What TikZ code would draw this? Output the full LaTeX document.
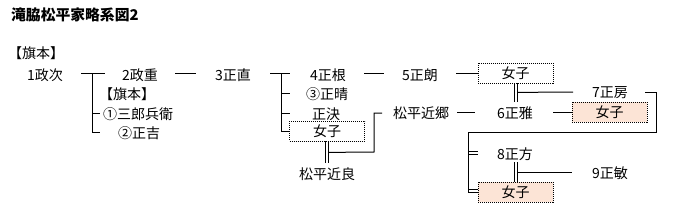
\documentclass[tikz,border=0pt]{standalone}
\usepackage{fontspec}
\setmainfont{Noto Sans CJK JP}
\definecolor{peach}{HTML}{FCE4D6}
\begin{document}
\begin{tikzpicture}[x=1pt,y=-1pt,
  lbl/.style={inner sep=0pt,font=\fontsize{14}{15}\selectfont},
  fbox/.style={draw,line width=0.8pt,dash pattern=on 1pt off 1pt,minimum width=75pt,minimum height=20pt,inner sep=0pt,font=\fontsize{14}{15}\selectfont},
  ffill/.style={fbox,fill=peach},
  ln/.style={line width=1pt}]
\useasboundingbox[fill=white] (0,0) rectangle (675,214);
\node[lbl,anchor=west,font=\fontsize{14.8}{16}\selectfont\bfseries] (title) at (11,15) {滝脇松平家略系図2};
\node[lbl,anchor=west] (h1) at (8,53) {【旗本】};
\node[lbl] (n1) at (45,75) {1政次};
\node[lbl] (n2) at (140,75) {2政重};
\node[lbl] (n3) at (233,75) {3正直};
\node[lbl] (n4) at (328,75) {4正根};
\node[lbl] (n5) at (420,75) {5正朗};
\node[fbox] (f1) at (515.5,73) {女子};
\node[lbl] (h2) at (127,94) {【旗本】};
\node[lbl] (sb) at (138,114) {①三郎兵衛};
\node[lbl] (my) at (139,133) {②正吉};
\node[lbl] (mh) at (327,94) {③正晴};
\node[lbl] (mk) at (326,114) {正決};
\node[fbox] (f2) at (327,131) {女子};
\node[lbl] (cy) at (327,174) {松平近良};
\node[lbl] (cs) at (421,113) {松平近郷};
\node[lbl] (n6) at (515,113) {6正雅};
\node[ffill] (f3) at (609.5,112) {女子};
\node[lbl] (n7) at (610,93) {7正房};
\node[lbl] (n8) at (515,154) {8正方};
\node[ffill] (f4) at (515.5,192) {女子};
\node[lbl] (n9) at (610,173) {9正敏};
% 1 -> children
\draw[ln] (81,73) -- (105,73);
\draw[ln] (92,73) -- (92,132) -- (100,132);
\draw[ln] (92,113) -- (100,113);
\draw[ln] (175,73) -- (196,73);
% 3 -> children
\draw[ln] (270,73) -- (290,73);
\draw[ln] (281,73) -- (281,131) -- (f2.west);
\draw[ln] (281,93) -- (290,93);
\draw[ln] (281,113) -- (290,113);
\draw[ln] (364,73) -- (384,73);
\draw[ln] (456,73) -- (f1.west);
% f1 marriage
\draw[ln] ([xshift=-1.5pt]f1.south) -- ++(0,19);
\draw[ln] ([xshift=1.5pt]f1.south) -- ++(0,19);
\draw[ln] ([xshift=1.5pt]f1.south) ++(0,9) -- (573,92);
% 7 -> 8
\draw[ln] (645,92) -- (656,92) -- (656,132) -- (468,132) -- (468,192) -- (f4.west);
\draw[ln] (468,189) -- (478,189);
\draw[ln] (468,151) -- (478,151);
\draw[ln] (468,154) -- (478,154);
% f2 marriage
\draw[ln] ([xshift=-1.5pt]f2.south) -- ++(0,22);
\draw[ln] ([xshift=1.5pt]f2.south) -- ++(0,22);
\draw[ln] ([xshift=1.5pt]f2.south) ++(0,11) -- (374,152) -- (374,113) -- (382,113);
\draw[ln] (457,112) -- (475,112);
\draw[ln] (553,112) -- (f3.west);
% 8 marriage
\draw[ln] (514,162) -- (514,182);
\draw[ln] (517,162) -- (517,182);
\draw[ln] (517,172) -- (572,172);
\end{tikzpicture}
\end{document}
